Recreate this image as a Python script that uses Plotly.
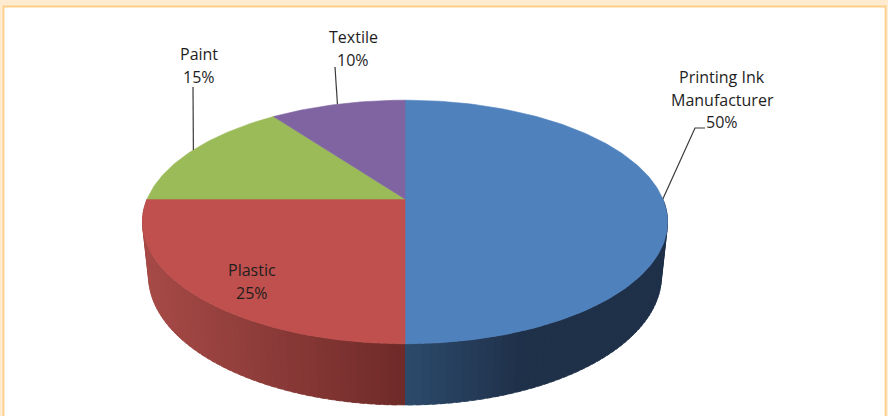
import numpy as np
import plotly.graph_objects as go

# ---------------- data ----------------
categories = ["Printing Ink Manufacturer", "Plastic", "Paint", "Textile"]
values = [50, 25, 15, 10]
label_lines = {
    "Printing Ink Manufacturer": ["Printing Ink", "Manufacturer"],
    "Plastic": ["Plastic"],
    "Paint": ["Paint"],
    "Textile": ["Textile"],
}

# ---------------- style / layout ----------------
top_colors = ["#4F81BD", "#C0504D", "#9BBB59", "#8064A2"]
side_colors = {  # (colour near the centre line, colour at the outer edge)
    0: ("#2C4A6B", "#1F3049"),
    1: ("#6E2A28", "#A64A47"),
    2: ("#6E8540", "#7D9747"),
    3: ("#5A4774", "#665283"),
}
W, Hgt = 888, 416
CX, CY = 405.0, 199.0
F, D = 1217.0, 4.72
ALPHA = np.radians(27.1)
THICK = 0.237
FONT = dict(family="Open Sans, Noto Sans, sans-serif", size=16, color="#1E1E1E")

# label positions (pixel layout): centre x, first-line y, line spacing
label_pos = {
    "Printing Ink Manufacturer": (722, 77, 22.5),
    "Plastic": (252, 270, 23),
    "Paint": (199, 54, 23),
    "Textile": (353, 37, 23),
}
# leader line end points (text side) in pixel layout
leader_ends = {
    "Printing Ink Manufacturer": [(695, 128), (705, 128)],
    "Paint": [(193, 87)],
    "Textile": [(335, 67)],
}


def proj(theta_deg, z):
    t = np.radians(np.asarray(theta_deg, dtype=float))
    X = np.sin(t)
    Y = np.cos(t)
    yc = Y * np.sin(ALPHA) + z * np.cos(ALPHA)
    zc = Y * np.cos(ALPHA) - z * np.sin(ALPHA) + D
    return CX + F * X / zc, CY - F * yc / zc


def hex2rgb(h):
    h = h.lstrip("#")
    return np.array([int(h[i:i + 2], 16) for i in (0, 2, 4)], dtype=float)


def mix(c1, c2, f):
    f = min(max(f, 0.0), 1.0)
    r = hex2rgb(c1) * (1 - f) + hex2rgb(c2) * f
    return "rgb(%d,%d,%d)" % tuple(np.round(r).astype(int))


total = float(sum(values))
spans = [360.0 * v / total for v in values]
starts = np.concatenate([[0.0], np.cumsum(spans)[:-1]])

fig = go.Figure()

# ---- side walls (front half of the rim only) ----
xr_, _ = proj(270, 0)
for i, (s, sp) in enumerate(zip(starts, spans)):
    a0 = max(s, 90.0)
    a1 = min(s + sp, 270.0)
    if a1 <= a0:
        continue
    n = max(int((a1 - a0) / 1.5), 2)
    edges = np.linspace(a0, a1, n + 1)
    for k in range(n):
        lo = edges[k]
        hi = min(edges[k + 1] + 1.0, a1)
        th = np.linspace(lo, hi, 5)
        xt, yt = proj(th, 0.0)
        xb, yb = proj(th[::-1], -THICK)
        px = np.concatenate([xt, xb])
        py = np.concatenate([yt, yb])
        mx = px.mean()
        if i == 0:
            f = (mx - CX) / 115.0
        else:
            f = (CX - mx) / (CX - xr_)
        col = mix(side_colors[i][0], side_colors[i][1], f)
        fig.add_trace(go.Scatter(x=px, y=py, mode="lines", fill="toself",
                                 fillcolor=col, line=dict(color=col, width=0.6),
                                 hoverinfo="skip", showlegend=False))

# ---- top faces ----
for i, (s, sp) in enumerate(zip(starts, spans)):
    th = np.linspace(s, s + sp, max(int(sp), 4) + 1)
    xa, ya = proj(th, 0.0)
    px = np.concatenate([[CX], xa, [CX]])
    py = np.concatenate([[CY], ya, [CY]])
    fig.add_trace(go.Scatter(x=px, y=py, mode="lines", fill="toself",
                             fillcolor=top_colors[i],
                             line=dict(color=top_colors[i], width=0.6),
                             hoverinfo="skip", showlegend=False,
                             name=categories[i]))

# ---- leader lines ----
for i, (s, sp) in enumerate(zip(starts, spans)):
    cat = categories[i]
    if cat not in leader_ends:
        continue
    x0, y0 = proj(s + sp / 2.0, 0.0)
    pts = [(float(x0), float(y0))] + leader_ends[cat]
    fig.add_trace(go.Scatter(x=[p[0] for p in pts], y=[p[1] for p in pts],
                             mode="lines", line=dict(color="#3A3A3A", width=1.2),
                             hoverinfo="skip", showlegend=False))

# ---- labels ----
annotations = []
for i, cat in enumerate(categories):
    lx, ly, dy = label_pos[cat]
    lines = label_lines[cat] + ["%d%%" % round(100 * values[i] / total)]
    for j, txt in enumerate(lines):
        annotations.append(dict(x=lx, y=ly + j * dy, xref="x", yref="y",
                                text=txt, showarrow=False, font=FONT,
                                xanchor="center", yanchor="middle"))

shapes = [
    dict(type="rect", xref="paper", yref="paper", x0=0, x1=1, y0=0, y1=1,
         fillcolor="#FFEBD0", line=dict(width=0), layer="below"),
    dict(type="rect", xref="x", yref="y", x0=3.5, x1=885.5, y0=6.5, y1=430,
         fillcolor="white", line=dict(color="#FFCF8A", width=1.8), layer="below"),
]

fig.update_layout(
    width=W, height=Hgt,
    margin=dict(l=0, r=0, t=0, b=0),
    paper_bgcolor="white", plot_bgcolor="rgba(0,0,0,0)",
    xaxis=dict(range=[0, W], visible=False, fixedrange=True),
    yaxis=dict(range=[Hgt, 0], visible=False, fixedrange=True),
    annotations=annotations, shapes=shapes,
    showlegend=False,
)

fig.write_html("out.html", config={"displayModeBar": False},
               post_script="document.body.style.margin='0';"
                           "document.body.style.padding='0';")
